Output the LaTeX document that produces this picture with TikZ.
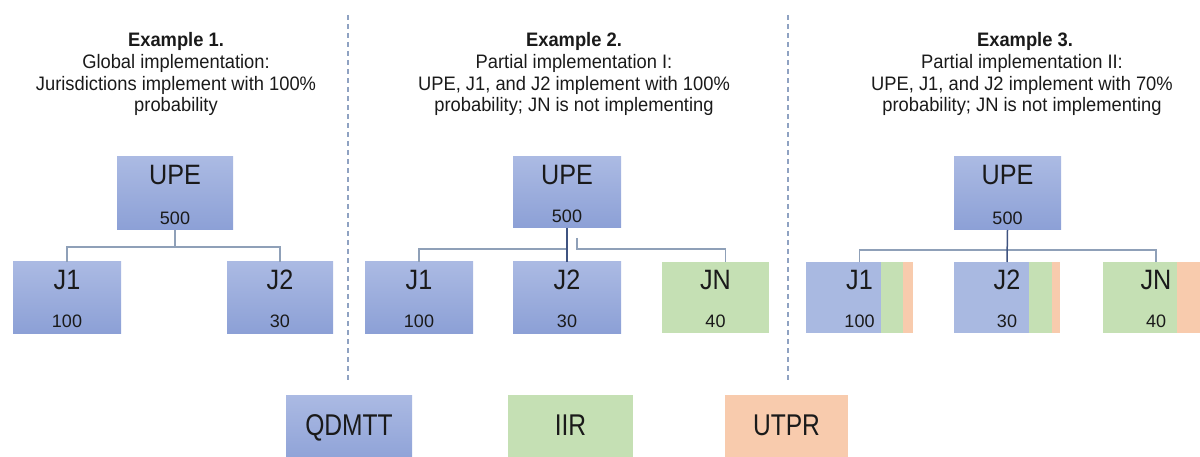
\documentclass[tikz,border=0pt]{standalone}
\usepackage{fontspec}
\setmainfont{Liberation Sans}
\newfontfamily\headfont{Liberation Sans}[FakeStretch=0.94]
\newfontfamily\labelfont{Liberation Sans}[FakeStretch=0.9]
\newfontfamily\numfont{Liberation Sans}
\newfontfamily\legfont{Liberation Sans}[FakeStretch=0.82]
\definecolor{qblueT}{HTML}{ABBAE3}
\definecolor{qblueB}{HTML}{8CA0D6}
\definecolor{qblueF}{HTML}{A9B9E1}
\definecolor{iirg}{HTML}{C5E0B4}
\definecolor{utpr}{HTML}{F8CBAD}
\definecolor{linkc}{HTML}{8FA0B8}
\definecolor{stemc}{HTML}{3F5380}
\definecolor{sepc}{HTML}{8FA2C2}
\definecolor{ink}{HTML}{1A1A1A}
\begin{document}
\begin{tikzpicture}[x=1pt,y=-1pt,
  box/.style={rectangle, inner sep=0pt, outer sep=0pt},
  bluebox/.style={box, top color=qblueT, bottom color=qblueB},
  greenbox/.style={box, fill=iirg},
  orangebox/.style={box, fill=utpr},
  big/.style={font=\labelfont\fontsize{28}{30}\selectfont, text=ink, anchor=base, inner sep=0pt},
  small/.style={font=\numfont\fontsize{18}{20}\selectfont, text=ink, anchor=base, inner sep=0pt},
  legendtext/.style={font=\legfont\fontsize{30}{32}\selectfont, text=ink, anchor=base, inner sep=0pt},
  headtitle/.style={font=\headfont\bfseries\fontsize{19.5}{21.5}\selectfont, text=ink, anchor=base, inner sep=0pt},
  headbody/.style={font=\headfont\fontsize{19.5}{21.5}\selectfont, text=ink, align=center, anchor=base, inner sep=0pt},
  link/.style={draw=linkc, line width=1.3pt},
  stem/.style={draw=stemc, line width=1.5pt},
  separator/.style={draw=sepc, line width=1.2pt, dash pattern=on 5pt off 4pt}]
\useasboundingbox (0,0) rectangle (1200,457);
\clip (0,0) rectangle (1200,457);

% column separators
\draw[separator] (348,15) -- (348,380);
\draw[separator] (788,15) -- (788,380);

% headings (body nodes are anchored at the baseline of their last line)
\node[headtitle] (h1) at (176,47) {Example 1.};
\node[headbody] (b1) at (176,112) {Global implementation:\\Jurisdictions implement with 100\%\\probability};
\node[headtitle] (h2) at (574,47) {Example 2.};
\node[headbody] (b2) at (574,112) {Partial implementation I:\\UPE, J1, and J2 implement with 100\%\\probability; JN is not implementing};
\node[headtitle] (h3) at (1025,47) {Example 3.};
\node[headbody] (b3) at (1022,112) {Partial implementation II:\\UPE, J1, and J2 implement with 70\%\\probability; JN is not implementing};

% ---------- Example 1 ----------
\node[bluebox, minimum width=116pt, minimum height=73pt] (u1) at (175,193.5) {};
\node[bluebox, minimum width=108pt, minimum height=71pt] (a1) at (67,297.5) {};
\node[bluebox, minimum width=106pt, minimum height=71pt] (a2) at (280,297.5) {};
\draw[link] (u1.south) -- ++(0,17) coordinate (k1);
\draw[link] (a1.north) |- (k1) -| (a2.north);

% ---------- Example 2 ----------
\node[bluebox, minimum width=108pt, minimum height=71pt] (u2) at (567,192.5) {};
\node[bluebox, minimum width=108pt, minimum height=71pt] (c1) at (419,297.5) {};
\node[bluebox, minimum width=108pt, minimum height=71pt] (c2) at (567,297.5) {};
\node[greenbox, minimum width=107pt, minimum height=71pt] (cn) at (715.5,297.5) {};
\draw[link] (c1.north) |- ([yshift=-21pt]u2.south);
\draw[link] ([xshift=10pt,yshift=-10pt]u2.south) -- ([xshift=10pt,yshift=-21pt]u2.south) -| ([xshift=10pt]cn.north);
\draw[stem] (u2.south) -- (c2.north);

% ---------- Example 3 ----------
\node[bluebox, minimum width=107pt, minimum height=73pt] (u3) at (1007.5,193.5) {};
\node[box, minimum width=107pt, minimum height=71pt] (e1) at (859.5,297.5) {};
\node[box, minimum width=106pt, minimum height=71pt] (e2) at (1007,297.5) {};
\node[box, minimum width=106pt, minimum height=71pt] (en) at (1156,297.5) {};
\fill[qblueF] (e1.north west) rectangle (881,333);
\fill[iirg] (881,262) rectangle (903,333);
\fill[utpr] (903,262) rectangle (e1.south east);
\fill[qblueF] (e2.north west) rectangle (1029,333);
\fill[iirg] (1029,262) rectangle (1052,333);
\fill[utpr] (1052,262) rectangle (e2.south east);
\fill[iirg] (en.north west) rectangle (1177,333);
\fill[utpr] (1177,262) rectangle (en.south east);
\draw[link] (e1.north) |- ([yshift=-20pt]u3.south) -| (en.north);
\draw[stem] (u3.south) -- (e2.north);

% box labels
\foreach \n/\t/\v in {u1/UPE/500, u2/UPE/500, u3/UPE/500}{
  \node[big] at ([yshift=-28pt]\n.north) {\t};
  \node[small] at ([yshift=5pt]\n.south) {\v};
}
\foreach \n/\t/\v in {a1/J1/100, a2/J2/30, c1/J1/100, c2/J2/30, cn/JN/40, e1/J1/100, e2/J2/30, en/JN/40}{
  \node[big] at ([yshift=-28pt]\n.north) {\t};
  \node[small] at ([yshift=6pt]\n.south) {\v};
}

% legend
\node[bluebox, minimum width=126pt, minimum height=72pt] (lq) at (349,431) {};
\node[greenbox, minimum width=125pt, minimum height=72pt] (li) at (570.5,431) {};
\node[orangebox, minimum width=123pt, minimum height=72pt] (lu) at (786.5,431) {};
\node[legendtext] at ([yshift=-40pt]lq.north) {QDMTT};
\node[legendtext] at ([yshift=-40pt]li.north) {IIR};
\node[legendtext] at ([yshift=-40pt]lu.north) {UTPR};
\end{tikzpicture}
\end{document}
